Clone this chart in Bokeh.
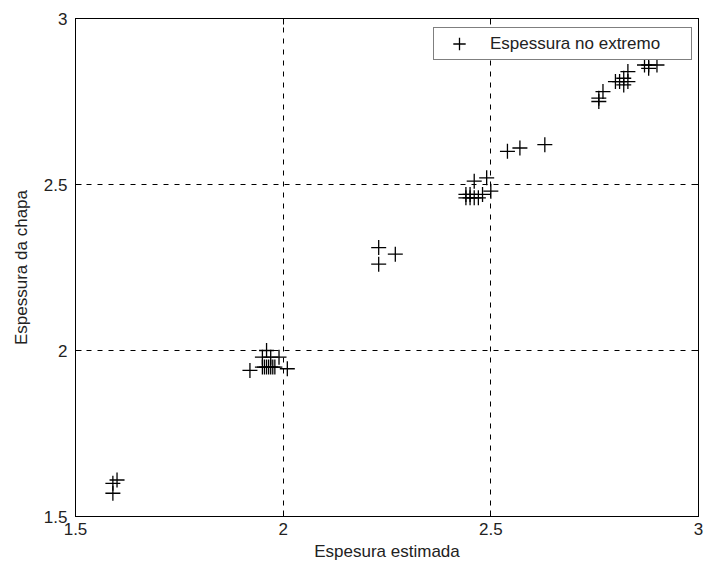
from bokeh.plotting import figure
from bokeh.models import (FixedTicker, LinearAxis, Range1d, CustomJSTickFormatter,
                          ColumnDataSource, Legend, LegendItem)
from bokeh.embed import file_html
from bokeh.resources import INLINE

# --- data ---
espessura_estimada = [
    1.60, 1.59, 1.59,
    1.92, 1.95, 1.955, 1.96, 1.965, 1.97, 1.975, 1.98, 1.95, 1.97, 1.99, 1.96, 2.01,
    2.23, 2.23, 2.27,
    2.44, 2.45, 2.46, 2.47, 2.44, 2.45, 2.48, 2.50, 2.46, 2.49,
    2.54, 2.57, 2.63,
    2.76, 2.76, 2.77, 2.80, 2.81, 2.82, 2.83, 2.82, 2.83,
    2.87, 2.88, 2.88, 2.90,
]
espessura_chapa = [
    1.61, 1.60, 1.57,
    1.94, 1.95, 1.95, 1.95, 1.95, 1.95, 1.95, 1.95, 1.98, 1.98, 1.98, 2.00, 1.945,
    2.31, 2.26, 2.29,
    2.46, 2.46, 2.46, 2.46, 2.47, 2.47, 2.47, 2.48, 2.51, 2.52,
    2.60, 2.61, 2.62,
    2.75, 2.76, 2.78, 2.81, 2.81, 2.80, 2.81, 2.82, 2.84,
    2.86, 2.85, 2.86, 2.86,
]
x_ticks = [1.5, 2, 2.5, 3]
y_ticks = [1.5, 2, 2.5, 3]
grid_ticks = [2, 2.5]
legend_label = "Espessura no extremo"
x_label = "Espesura estimada"
y_label = "Espessura da chapa"

FONT = "Liberation Sans"
TXT = "#222222"

p = figure(width=706, height=565, output_backend="svg", toolbar_location=None,
           x_range=Range1d(1.5, 3), y_range=Range1d(1.5, 3),
           min_border_left=75, min_border_right=8, min_border_top=18, min_border_bottom=49,
           x_axis_label=x_label, y_axis_label=y_label)
p.background_fill_color = "white"
p.border_fill_color = "white"
p.outline_line_color = "black"
p.outline_line_width = 1

fmt = CustomJSTickFormatter(code="return tick.toString();")

for ax, ticks in ((p.xaxis[0], x_ticks), (p.yaxis[0], y_ticks)):
    ax.ticker = FixedTicker(ticks=ticks)
    ax.formatter = fmt
    ax.major_tick_in = 6
    ax.major_tick_out = 0
    ax.minor_tick_line_color = None
    ax.axis_line_color = "black"
    ax.major_tick_line_color = "black"
    ax.major_label_text_font = FONT
    ax.major_label_text_font_size = "17px"
    ax.major_label_text_color = TXT
    ax.axis_label_text_font = FONT
    ax.axis_label_text_font_size = "17px"
    ax.axis_label_text_font_style = "normal"
    ax.axis_label_text_color = TXT

p.xaxis[0].major_label_standoff = 6
p.xaxis[0].axis_label_standoff = 4
p.yaxis[0].major_label_standoff = 8
p.yaxis[0].axis_label_standoff = 10

# top and right axes: ticks only
top = LinearAxis(ticker=FixedTicker(ticks=x_ticks), major_label_text_alpha=0,
                 major_label_text_font_size="1px", major_tick_in=6, major_tick_out=0,
                 minor_tick_line_color=None, axis_line_color="black")
right = LinearAxis(ticker=FixedTicker(ticks=y_ticks), major_label_text_alpha=0,
                   major_label_text_font_size="1px", major_tick_in=6, major_tick_out=0,
                   minor_tick_line_color=None, axis_line_color="black")
top.major_label_standoff = 0
right.major_label_standoff = 0
p.add_layout(top, "above")
p.add_layout(right, "right")

p.xgrid.ticker = FixedTicker(ticks=grid_ticks)
p.ygrid.ticker = FixedTicker(ticks=grid_ticks)
for g in (p.xgrid[0], p.ygrid[0]):
    g.grid_line_color = "black"
    g.grid_line_dash = "5 6"
    g.grid_line_width = 1
    g.grid_line_alpha = 1

src = ColumnDataSource(dict(x=espessura_estimada, y=espessura_chapa))
r = p.scatter("x", "y", source=src, marker="cross", size=15, line_color="black",
              line_width=1.3)

legend = Legend(items=[LegendItem(label=legend_label, renderers=[r])],
                location=(358, 456))
legend.label_text_font = FONT
legend.label_text_font_size = "17px"
legend.label_text_color = TXT
legend.border_line_color = "black"
legend.border_line_width = 1
legend.padding = 0
legend.spacing = 0
legend.glyph_width = 50
legend.glyph_height = 31
legend.label_height = 31
legend.label_standoff = 6
legend.label_width = 201
legend.margin = 0
legend.background_fill_alpha = 1
p.add_layout(legend, "center")

open("out.html", "w").write(file_html(p, INLINE))
